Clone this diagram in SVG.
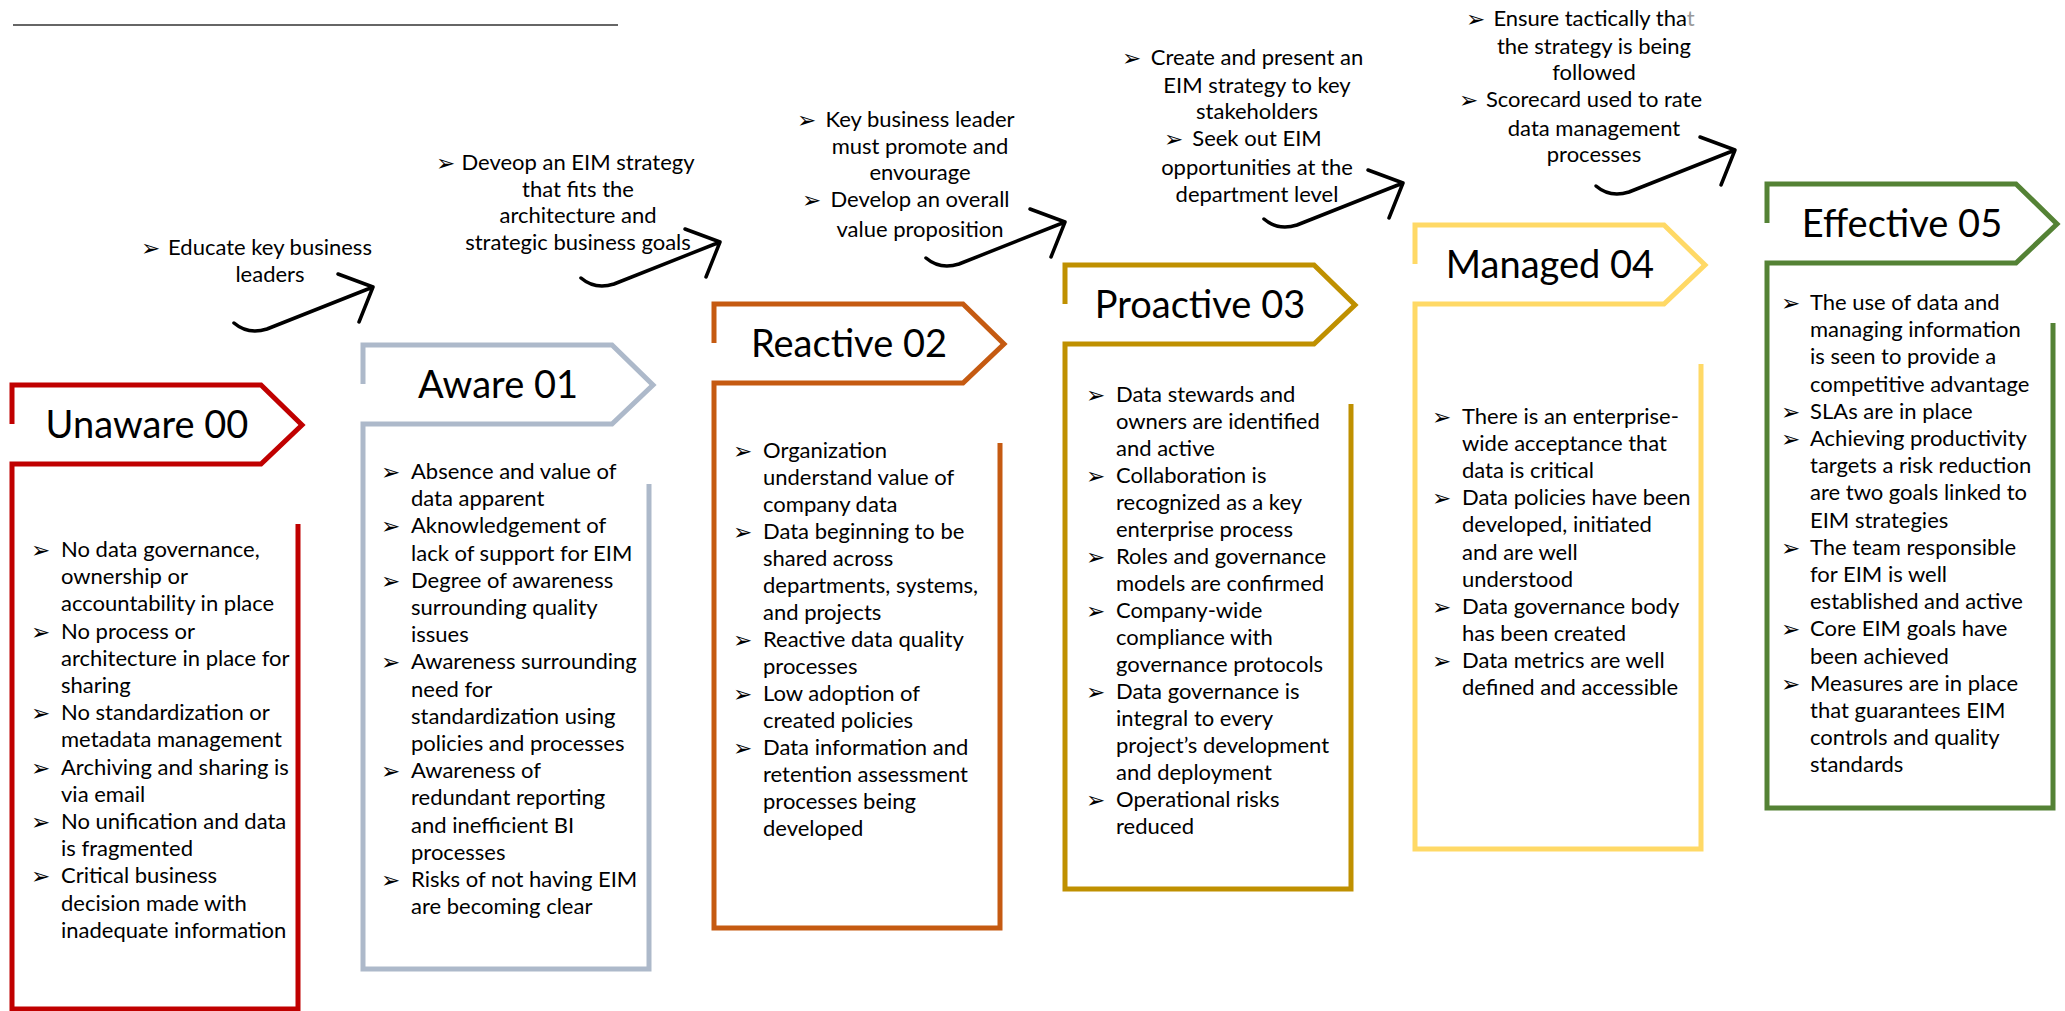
<svg xmlns="http://www.w3.org/2000/svg" width="2065" height="1011" viewBox="0 0 2065 1011">
<style>
  .frame{fill:none;stroke-width:5;stroke-linejoin:miter}
  .head{font-family:Lato,"Open Sans","Liberation Sans",sans-serif;font-size:38px;fill:#000;text-anchor:middle}
  .body{font-family:Lato,"Open Sans","Liberation Sans",sans-serif;font-size:22px;fill:#000}
  .cap{font-family:Lato,"Open Sans","Liberation Sans",sans-serif;font-size:22px;fill:#000;text-anchor:middle}
  .bul{font-family:"DejaVu Sans",sans-serif;font-size:23px;fill:#000}
  .arrow{fill:none;stroke:#000;stroke-width:3.5;stroke-linecap:round;stroke-linejoin:round}
</style>
<defs>
  <path id="frame" d="M0,39 V0 H249 L290,40 L249,79 H0 V624 H286 V139"/>
  <path id="swoosh" d="M-139,36 Q-125,48 -106,42 L0,0 M-35,-13 L0,0 L-14,35"/>
</defs>
<rect width="2065" height="1011" fill="#fff"/>
<line x1="13" y1="25" x2="618" y2="25" stroke="#666" stroke-width="2"/>

<g id="connectors" class="arrow">
  <use href="#swoosh" transform="translate(373,287)"/>
  <use href="#swoosh" transform="translate(720,242)"/>
  <use href="#swoosh" transform="translate(1065,222)"/>
  <use href="#swoosh" transform="translate(1403,183)"/>
  <use href="#swoosh" transform="translate(1735,150)"/>
</g>

<g id="caption-1">
  <text class="bul" x="141" y="256">➢</text>
  <text class="cap"><tspan x="270" y="255">Educate key business</tspan><tspan x="270" y="282">leaders</tspan></text>
</g>
<g id="caption-2">
  <text class="bul" x="436" y="171">➢</text>
  <text class="cap"><tspan x="578" y="170">Deveop an EIM strategy</tspan><tspan x="578" y="197">that fits the</tspan><tspan x="578" y="223">architecture and</tspan><tspan x="578" y="250">strategic business goals</tspan></text>
</g>
<g id="caption-3">
  <text class="bul" x="797" y="128">➢</text>
  <text class="bul" x="802" y="208">➢</text>
  <text class="cap"><tspan x="920" y="127">Key business leader</tspan><tspan x="920" y="154">must promote and</tspan><tspan x="920" y="180">envourage</tspan><tspan x="920" y="207">Develop an overall</tspan><tspan x="920" y="237">value proposition</tspan></text>
</g>
<g id="caption-4">
  <text class="bul" x="1122" y="66">➢</text>
  <text class="bul" x="1164" y="147">➢</text>
  <text class="cap"><tspan x="1257" y="65">Create and present an</tspan><tspan x="1257" y="93">EIM strategy to key</tspan><tspan x="1257" y="119">stakeholders</tspan><tspan x="1257" y="146">Seek out EIM</tspan><tspan x="1257" y="175">opportunities at the</tspan><tspan x="1257" y="202">department level</tspan></text>
</g>
<g id="caption-5">
  <text class="bul" x="1466" y="27">➢</text>
  <text class="bul" x="1459" y="108">➢</text>
  <text class="cap"><tspan x="1594" y="26">Ensure tactically tha<tspan fill="#999">t</tspan></tspan><tspan x="1594" y="54">the strategy is being</tspan><tspan x="1594" y="80">followed</tspan><tspan x="1594" y="107">Scorecard used to rate</tspan><tspan x="1594" y="136">data management</tspan><tspan x="1594" y="162">processes</tspan></text>
</g>

<g id="unaware" transform="translate(12,385)">
  <use href="#frame" class="frame" stroke="#C00000"/>
  <text class="head" x="135" y="53">Unaware 00</text>
  <g class="bul"><text x="19" y="173">➢</text><text x="19" y="255">➢</text><text x="19" y="336">➢</text><text x="19" y="391">➢</text><text x="19" y="445">➢</text><text x="19" y="499">➢</text></g>
  <text class="body">
    <tspan x="49" y="172">No data governance,</tspan><tspan x="49" y="199">ownership or</tspan><tspan x="49" y="226">accountability in place</tspan><tspan x="49" y="254">No process or</tspan><tspan x="49" y="281">architecture in place for</tspan><tspan x="49" y="308">sharing</tspan><tspan x="49" y="335">No standardization or</tspan><tspan x="49" y="362">metadata management</tspan><tspan x="49" y="390">Archiving and sharing is</tspan><tspan x="49" y="417">via email</tspan><tspan x="49" y="444">No unification and data</tspan><tspan x="49" y="471">is fragmented</tspan><tspan x="49" y="498">Critical business</tspan><tspan x="49" y="526">decision made with</tspan><tspan x="49" y="553">inadequate information</tspan>
  </text>
</g>

<g id="aware" transform="translate(363,345)">
  <use href="#frame" class="frame" stroke="#ADB9CA"/>
  <text class="head" x="135" y="53">Aware 01</text>
  <g class="bul"><text x="18" y="135">➢</text><text x="18" y="189">➢</text><text x="18" y="244">➢</text><text x="18" y="325">➢</text><text x="18" y="434">➢</text><text x="18" y="543">➢</text></g>
  <text class="body">
    <tspan x="48" y="134">Absence and value of</tspan><tspan x="48" y="161">data apparent</tspan><tspan x="48" y="188">Aknowledgement of</tspan><tspan x="48" y="216">lack of support for EIM</tspan><tspan x="48" y="243">Degree of awareness</tspan><tspan x="48" y="270">surrounding quality</tspan><tspan x="48" y="297">issues</tspan><tspan x="48" y="324">Awareness surrounding</tspan><tspan x="48" y="352">need for</tspan><tspan x="48" y="379">standardization using</tspan><tspan x="48" y="406">policies and processes</tspan><tspan x="48" y="433">Awareness of</tspan><tspan x="48" y="460">redundant reporting</tspan><tspan x="48" y="488">and inefficient BI</tspan><tspan x="48" y="515">processes</tspan><tspan x="48" y="542">Risks of not having EIM</tspan><tspan x="48" y="569">are becoming clear</tspan>
  </text>
</g>

<g id="reactive" transform="translate(714,304)">
  <use href="#frame" class="frame" stroke="#C55A11"/>
  <text class="head" x="135" y="53">Reactive 02</text>
  <g class="bul"><text x="19" y="155">➢</text><text x="19" y="236">➢</text><text x="19" y="344">➢</text><text x="19" y="398">➢</text><text x="19" y="452">➢</text></g>
  <text class="body">
    <tspan x="49" y="154">Organization</tspan><tspan x="49" y="181">understand value of</tspan><tspan x="49" y="208">company data</tspan><tspan x="49" y="235">Data beginning to be</tspan><tspan x="49" y="262">shared across</tspan><tspan x="49" y="289">departments, systems,</tspan><tspan x="49" y="316">and projects</tspan><tspan x="49" y="343">Reactive data quality</tspan><tspan x="49" y="370">processes</tspan><tspan x="49" y="397">Low adoption of</tspan><tspan x="49" y="424">created policies</tspan><tspan x="49" y="451">Data information and</tspan><tspan x="49" y="478">retention assessment</tspan><tspan x="49" y="505">processes being</tspan><tspan x="49" y="532">developed</tspan>
  </text>
</g>

<g id="proactive" transform="translate(1065,265)">
  <use href="#frame" class="frame" stroke="#BF9000"/>
  <text class="head" x="135" y="53">Proactive 03</text>
  <g class="bul"><text x="21" y="138">➢</text><text x="21" y="219">➢</text><text x="21" y="300">➢</text><text x="21" y="354">➢</text><text x="21" y="435">➢</text><text x="21" y="543">➢</text></g>
  <text class="body">
    <tspan x="51" y="137">Data stewards and</tspan><tspan x="51" y="164">owners are identified</tspan><tspan x="51" y="191">and active</tspan><tspan x="51" y="218">Collaboration is</tspan><tspan x="51" y="245">recognized as a key</tspan><tspan x="51" y="272">enterprise process</tspan><tspan x="51" y="299">Roles and governance</tspan><tspan x="51" y="326">models are confirmed</tspan><tspan x="51" y="353">Company-wide</tspan><tspan x="51" y="380">compliance with</tspan><tspan x="51" y="407">governance protocols</tspan><tspan x="51" y="434">Data governance is</tspan><tspan x="51" y="461">integral to every</tspan><tspan x="51" y="488">project’s development</tspan><tspan x="51" y="515">and deployment</tspan><tspan x="51" y="542">Operational risks</tspan><tspan x="51" y="569">reduced</tspan>
  </text>
</g>

<g id="managed" transform="translate(1415,225)">
  <use href="#frame" class="frame" stroke="#FFD966"/>
  <text class="head" x="135" y="53">Managed 04</text>
  <g class="bul"><text x="17" y="200">➢</text><text x="17" y="281">➢</text><text x="17" y="390">➢</text><text x="17" y="444">➢</text></g>
  <text class="body">
    <tspan x="47" y="199">There is an enterprise-</tspan><tspan x="47" y="226">wide acceptance that</tspan><tspan x="47" y="253">data is critical</tspan><tspan x="47" y="280">Data policies have been</tspan><tspan x="47" y="307">developed, initiated</tspan><tspan x="47" y="335">and are well</tspan><tspan x="47" y="362">understood</tspan><tspan x="47" y="389">Data governance body</tspan><tspan x="47" y="416">has been created</tspan><tspan x="47" y="443">Data metrics are well</tspan><tspan x="47" y="470">defined and accessible</tspan>
  </text>
</g>

<g id="effective" transform="translate(1767,184)">
  <use href="#frame" class="frame" stroke="#548235"/>
  <text class="head" x="135" y="53">Effective 05</text>
  <g class="bul"><text x="14" y="127">➢</text><text x="14" y="236">➢</text><text x="14" y="263">➢</text><text x="14" y="372">➢</text><text x="14" y="453">➢</text><text x="14" y="508">➢</text></g>
  <text class="body">
    <tspan x="43" y="126">The use of data and</tspan><tspan x="43" y="153">managing information</tspan><tspan x="43" y="180">is seen to provide a</tspan><tspan x="43" y="208">competitive advantage</tspan><tspan x="43" y="235">SLAs are in place</tspan><tspan x="43" y="262">Achieving productivity</tspan><tspan x="43" y="289">targets a risk reduction</tspan><tspan x="43" y="316">are two goals linked to</tspan><tspan x="43" y="344">EIM strategies</tspan><tspan x="43" y="371">The team responsible</tspan><tspan x="43" y="398">for EIM is well</tspan><tspan x="43" y="425">established and active</tspan><tspan x="43" y="452">Core EIM goals have</tspan><tspan x="43" y="480">been achieved</tspan><tspan x="43" y="507">Measures are in place</tspan><tspan x="43" y="534">that guarantees EIM</tspan><tspan x="43" y="561">controls and quality</tspan><tspan x="43" y="588">standards</tspan>
  </text>
</g>
</svg>
